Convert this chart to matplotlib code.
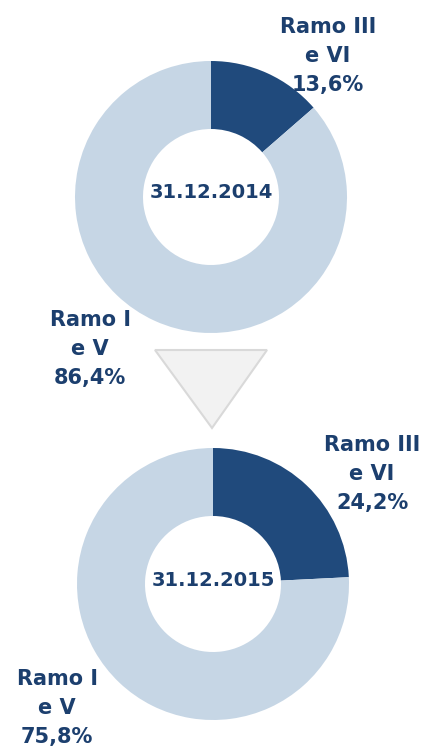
import matplotlib
matplotlib.use("Agg")
import matplotlib.pyplot as plt
from matplotlib.patches import Polygon

# --- data ---
dates = ["31.12.2014", "31.12.2015"]
categories = ["Ramo III\ne VI", "Ramo I\ne V"]
shares_2014 = [13.6, 86.4]
shares_2015 = [24.2, 75.8]

DARK = "#204A7C"
LIGHT = "#C6D6E5"
TEXT = "#1C3F6E"
FONT = "DejaVu Sans"

W, H = 423, 749
fig = plt.figure(figsize=(W / 100, H / 100), dpi=100)
ax = fig.add_axes([0, 0, 1, 1])


def fmt(v):
    return f"{v:.1f}%".replace(".", ",")


def donut(center, shares, date, lab_dark, lab_light):
    ax.pie(shares, colors=[DARK, LIGHT], startangle=90, counterclock=False,
           center=center, radius=136, wedgeprops=dict(width=68, linewidth=0),
           frame=True)
    ax.text(center[0], center[1] + 4, date, ha="center", va="center",
            fontsize=14, fontweight="bold", color=TEXT, family=FONT)
    for (x, y), cat, v in ((lab_dark, categories[0], shares[0]),
                           (lab_light, categories[1], shares[1])):
        ax.text(x, y, cat + "\n" + fmt(v), ha="center", va="center",
                fontsize=15, fontweight="bold", color=TEXT, family=FONT,
                linespacing=1.55)


donut((211, 552), shares_2014, dates[0], (328, 693), (90, 400))
donut((213, 165), shares_2015, dates[1], (372, 275), (57, 41))

# arrow triangle between the two donuts
tri = Polygon([(155, 399), (267, 399), (212, 321)], closed=True,
              facecolor="#F2F2F2", edgecolor="#D9D9D9", linewidth=1.5)
ax.add_patch(tri)

ax.set_xlim(0, W)
ax.set_ylim(0, H)
ax.set_aspect("equal")
ax.axis("off")

fig.savefig("out.png", dpi=100)
